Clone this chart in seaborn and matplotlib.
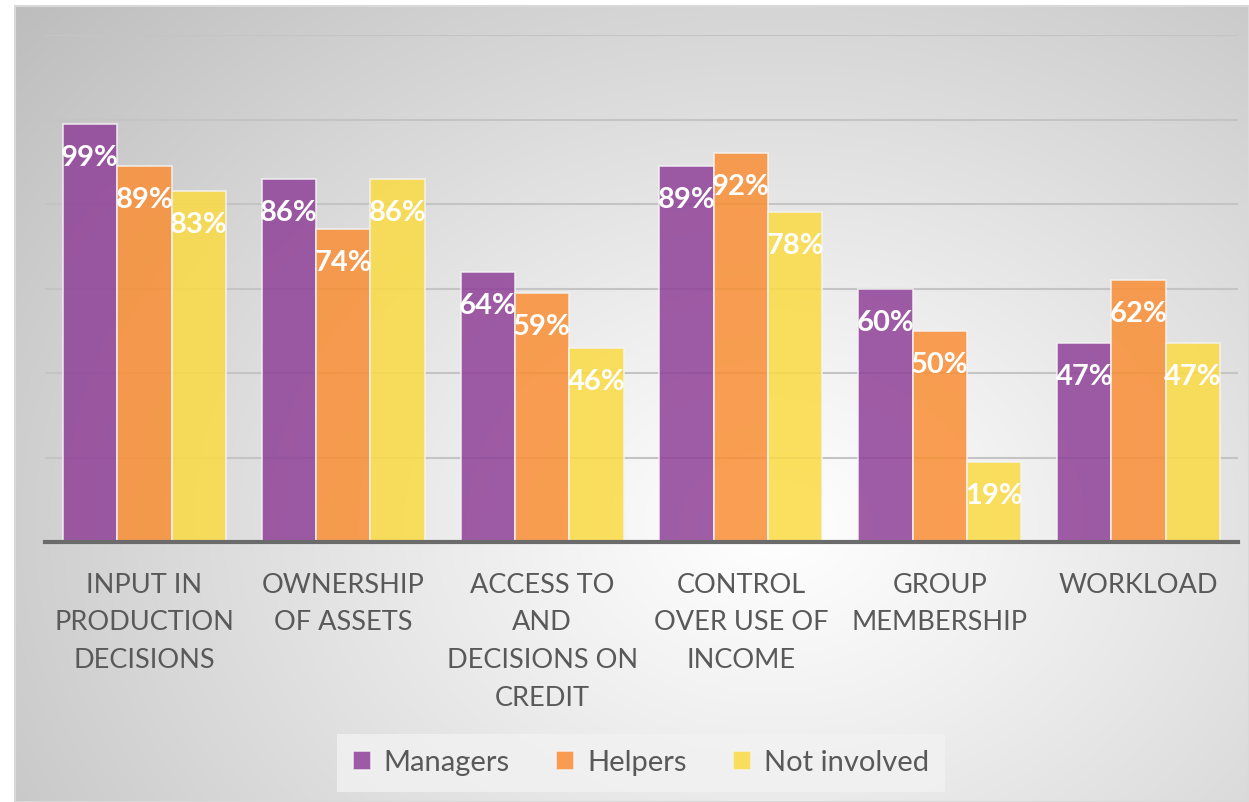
import numpy as np
import pandas as pd
import seaborn as sns
import matplotlib.pyplot as plt

categories = ["INPUT IN\nPRODUCTION\nDECISIONS", "OWNERSHIP\nOF ASSETS",
              "ACCESS TO\nAND\nDECISIONS ON\nCREDIT", "CONTROL\nOVER USE OF\nINCOME",
              "GROUP\nMEMBERSHIP", "WORKLOAD"]
groups = ["Managers", "Helpers", "Not involved"]
managers = [0.99, 0.86, 0.64, 0.89, 0.60, 0.47]
helpers = [0.89, 0.74, 0.59, 0.92, 0.50, 0.62]
not_involved = [0.83, 0.86, 0.46, 0.78, 0.19, 0.47]
colors = ["#904198", "#F98E34", "#FADB42"]

df = pd.DataFrame({
    "category": categories * 3,
    "group": [groups[0]] * 6 + [groups[1]] * 6 + [groups[2]] * 6,
    "value": managers + helpers + not_involved,
})

sns.set_theme(style="white")
plt.rcParams['font.family'] = ['Lato', 'DejaVu Sans']

fig = plt.figure(figsize=(12.49, 8.02), dpi=100)
fig.patch.set_facecolor("white")

# radial gradient background panel
bg = fig.add_axes([15 / 1249, 0, 1 - 15 / 1249, 1 - 6 / 802], zorder=-5)
h, w = 796, 1234
yy, xx = np.mgrid[0:h, 0:w]
cx, cy = 760, 520
d = np.sqrt(((xx - cx) / 900.0) ** 2 + ((yy - cy) / 700.0) ** 2)
d = np.clip(d / d.max(), 0, 1)
shade = 1.0 - 0.26 * d ** 1.1
bg.imshow(np.dstack([shade] * 3), aspect="auto", extent=[0, 1, 0, 1])
bg.set_axis_off()
fig.add_artist(plt.Rectangle((15 / 1249, 0), 1 - 15 / 1249, 1 - 6 / 802,
                             transform=fig.transFigure, fill=False,
                             edgecolor="#d9d9d9", linewidth=1.5))

ax = fig.add_axes([45 / 1249, 1 - 542 / 802, (1238 - 45) / 1249, (542 - 35) / 802])
ax.set_facecolor("none")

sns.barplot(data=df, x="category", y="value", hue="group", palette=colors,
            width=0.82, saturation=1, alpha=0.85, edgecolor="#f4f4f4",
            linewidth=1.2, ax=ax, zorder=3)

ax.set_ylim(0, 1.2)
ax.set_xlim(-0.5, 5.5)
ax.set_yticks([0.2, 0.4, 0.6, 0.8, 1.0, 1.2])
ax.yaxis.grid(True, color="#c4c4c4", linewidth=1.5, zorder=0)
ax.set_axisbelow(True)
ax.tick_params(axis="y", left=False, labelleft=False)
ax.tick_params(axis="x", bottom=False, pad=16, labelsize=19.5, labelcolor="#595959")
for lab in ax.get_xticklabels():
    lab.set_linespacing(1.64)
ax.set_xlabel("")
ax.set_ylabel("")
for s in ["top", "right", "left"]:
    ax.spines[s].set_visible(False)
ax.spines["bottom"].set_color("#6b6b6b")
ax.spines["bottom"].set_linewidth(3)
ax.spines["bottom"].set_zorder(4)

for cont in ax.containers:
    for bar in cont:
        val = bar.get_height()
        ax.annotate(f"{val * 100:.0f}%", (bar.get_x() + bar.get_width() / 2, val),
                    xytext=(0, -24.5), textcoords="offset points", ha="center",
                    va="center", color="white", fontsize=21, fontweight="bold",
                    zorder=5)

leg = ax.legend(loc="center", bbox_to_anchor=(641 / 1249, 1 - 763 / 802),
                bbox_transform=fig.transFigure, ncol=3, frameon=True,
                fontsize=21, handlelength=0.6, handleheight=0.6,
                handletextpad=0.45, columnspacing=1.6, borderpad=0.55)
leg.get_frame().set_facecolor("#f2f2f2")
leg.get_frame().set_alpha(0.8)
leg.get_frame().set_edgecolor("none")
leg.get_frame().set_boxstyle("square", pad=0)
for t in leg.get_texts():
    t.set_color("#595959")

fig.savefig("out.png", dpi=100)
